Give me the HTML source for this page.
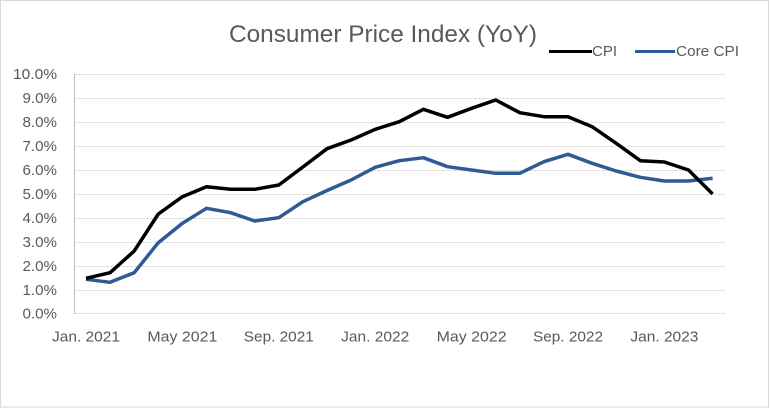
<!DOCTYPE html>
<html><head><meta charset="utf-8"><style>
html,body{margin:0;padding:0;background:#fff;}
svg{display:block;}
text{font-family:"Liberation Sans",sans-serif;fill:#595959;}
</style></head><body>
<svg width="770" height="408" viewBox="0 0 770 408" xmlns="http://www.w3.org/2000/svg">
<rect x="0.5" y="0.5" width="768" height="406.5" fill="#fff" stroke="#d9d9d9" stroke-width="1"/>
<text x="229" y="42" font-size="24" textLength="308" lengthAdjust="spacingAndGlyphs">Consumer Price Index (YoY)</text>
<line x1="549" y1="51.5" x2="592" y2="51.5" stroke="#000" stroke-width="3"/>
<text x="592" y="56" font-size="15" textLength="25" lengthAdjust="spacingAndGlyphs">CPI</text>
<line x1="635" y1="51.5" x2="675" y2="51.5" stroke="#2E5A96" stroke-width="3"/>
<text x="676" y="56" font-size="15" textLength="63" lengthAdjust="spacingAndGlyphs">Core CPI</text>
<g stroke="#d9d9d9" stroke-width="1" stroke-dasharray="3,1">
<line x1="74" y1="74.5" x2="725" y2="74.5"/>
<line x1="74" y1="98.5" x2="725" y2="98.5"/>
<line x1="74" y1="122.5" x2="725" y2="122.5"/>
<line x1="74" y1="146.5" x2="725" y2="146.5"/>
<line x1="74" y1="170.5" x2="725" y2="170.5"/>
<line x1="74" y1="194.5" x2="725" y2="194.5"/>
<line x1="74" y1="218.5" x2="725" y2="218.5"/>
<line x1="74" y1="242.5" x2="725" y2="242.5"/>
<line x1="74" y1="266.5" x2="725" y2="266.5"/>
<line x1="74" y1="290.5" x2="725" y2="290.5"/>
<line x1="74" y1="313.5" x2="725" y2="313.5"/>
</g>
<line x1="74.5" y1="74" x2="74.5" y2="314" stroke="#bfbfbf" stroke-width="1"/>
<g font-size="15" text-anchor="end">
<text x="57" y="79" textLength="44" lengthAdjust="spacingAndGlyphs">10.0%</text>
<text x="57" y="103" textLength="34.5" lengthAdjust="spacingAndGlyphs">9.0%</text>
<text x="57" y="127" textLength="34.5" lengthAdjust="spacingAndGlyphs">8.0%</text>
<text x="57" y="151" textLength="34.5" lengthAdjust="spacingAndGlyphs">7.0%</text>
<text x="57" y="175" textLength="34.5" lengthAdjust="spacingAndGlyphs">6.0%</text>
<text x="57" y="199" textLength="34.5" lengthAdjust="spacingAndGlyphs">5.0%</text>
<text x="57" y="223" textLength="34.5" lengthAdjust="spacingAndGlyphs">4.0%</text>
<text x="57" y="247" textLength="34.5" lengthAdjust="spacingAndGlyphs">3.0%</text>
<text x="57" y="271" textLength="34.5" lengthAdjust="spacingAndGlyphs">2.0%</text>
<text x="57" y="295" textLength="34.5" lengthAdjust="spacingAndGlyphs">1.0%</text>
<text x="57" y="318.5" textLength="34.5" lengthAdjust="spacingAndGlyphs">0.0%</text>
</g>
<g font-size="15" text-anchor="middle">
<text x="86" y="341.5" textLength="68" lengthAdjust="spacingAndGlyphs">Jan. 2021</text>
<text x="182.4" y="341.5" textLength="70" lengthAdjust="spacingAndGlyphs">May 2021</text>
<text x="278.8" y="341.5" textLength="70" lengthAdjust="spacingAndGlyphs">Sep. 2021</text>
<text x="375.2" y="341.5" textLength="68" lengthAdjust="spacingAndGlyphs">Jan. 2022</text>
<text x="471.6" y="341.5" textLength="70" lengthAdjust="spacingAndGlyphs">May 2022</text>
<text x="568" y="341.5" textLength="70" lengthAdjust="spacingAndGlyphs">Sep. 2022</text>
<text x="664.4" y="341.5" textLength="68" lengthAdjust="spacingAndGlyphs">Jan. 2023</text>
</g>
<polyline fill="none" stroke="#2E5A96" stroke-width="3.5" stroke-linejoin="round" points="86,279.3 110.1,282.3 134.2,272.7 158.3,242.7 182.4,223.3 206.5,208.3 230.6,212.7 254.7,221 278.8,217.7 302.9,201.7 327,190.5 351.1,180 375.2,167.3 399.3,160.7 423.4,157.7 447.5,166.7 471.6,170 495.7,173.3 519.8,173.3 543.9,161.7 568,154.3 592.1,163.3 616.2,171 640.3,177.3 664.4,181 688.5,181 712.6,178.3"/>
<polyline fill="none" stroke="#000" stroke-width="3.5" stroke-linejoin="round" points="86,278.3 110.1,272.7 134.2,251 158.3,214 182.4,196.7 206.5,186.7 230.6,189.3 254.7,189.3 278.8,185 302.9,167 327,148.7 351.1,140 375.2,129.3 399.3,121.7 423.4,109.3 447.5,117.3 471.6,108.3 495.7,100 519.8,112.7 543.9,116.7 568,116.7 592.1,126.7 616.2,143.3 640.3,160.7 664.4,162 688.5,170 712.6,194"/>
</svg>
</body></html>
